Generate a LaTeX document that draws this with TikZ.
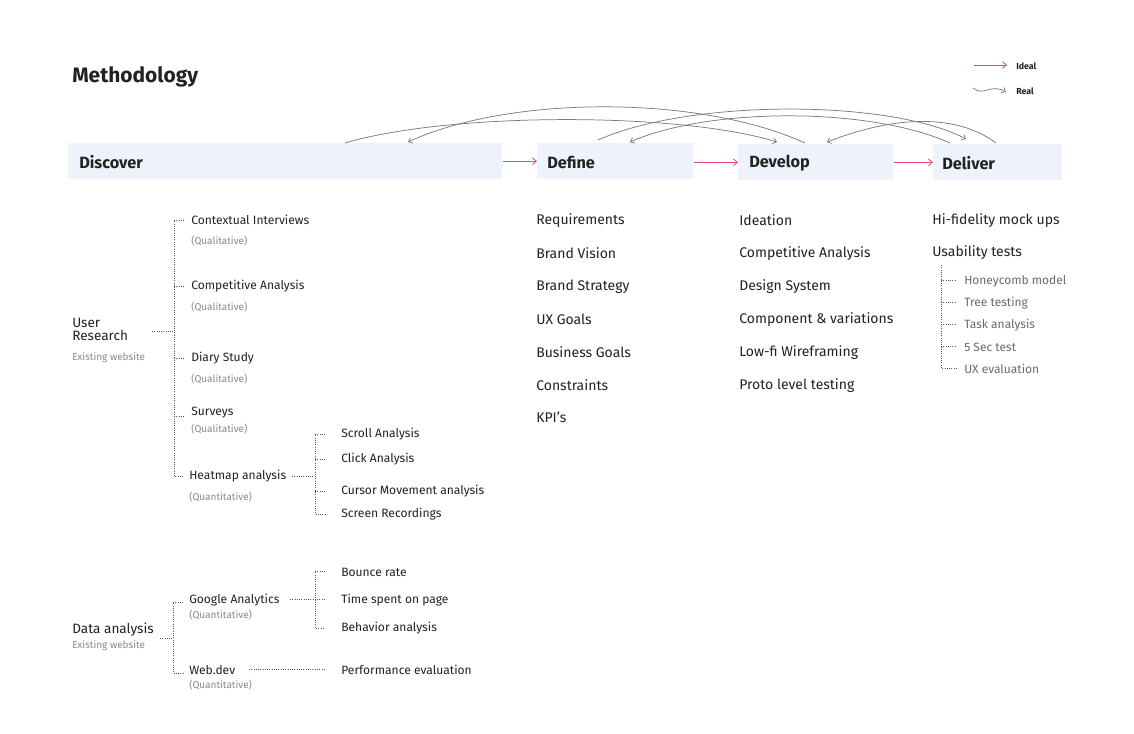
\documentclass[tikz,border=0pt]{standalone}
\usepackage{fontspec}
\setmainfont{Fira Sans}
\usetikzlibrary{arrows.meta}
\definecolor{barfill}{HTML}{EEF3FB}
\definecolor{ink}{HTML}{222222}
\definecolor{subc}{HTML}{8A8A8A}
\definecolor{grayitem}{HTML}{6A6A6A}
\definecolor{pinkc}{HTML}{E8457A}
\definecolor{curvec}{HTML}{7A7A7A}
\definecolor{dotc}{HTML}{555555}
\tikzset{
  txt/.style={anchor=west, inner sep=0, yshift=-1pt},
  phasebox/.style={fill=barfill, draw=none, anchor=north west, inner sep=0, minimum height=27pt},
  phaselabel/.style={txt, text=ink, font=\fontsize{12.2}{14}\selectfont\bfseries},
  colitem/.style={txt, text=ink, font=\fontsize{10.5}{12}\selectfont},
  treeitem/.style={txt, text=ink, font=\fontsize{9.05}{10.5}\selectfont},
  greyitem/.style={txt, text=grayitem, font=\fontsize{9}{10.5}\selectfont},
  subnote/.style={txt, text=subc, font=\fontsize{7.5}{9}\selectfont},
  rootitem/.style={txt, text=ink, font=\fontsize{10.2}{11}\selectfont, align=left},
  legendtxt/.style={txt, text=ink, font=\fontsize{6.6}{8}\selectfont\bfseries},
  ideal/.style={draw=pinkc, line width=0.6pt, -{Straight Barb[length=3pt,width=5pt]}},
  real/.style={draw=curvec, line width=0.55pt, -{Straight Barb[length=2.6pt,width=4.5pt]}},
  dotline/.style={draw=dotc, line width=0.6pt, dash pattern=on 0.6pt off 1.1pt},
}
\begin{document}
\begin{tikzpicture}[x=0.75pt,y=-0.75pt]
\useasboundingbox (0,0) rectangle (1134,734);
\fill[white] (0,0) rectangle (1134,734);

% title
\node[txt, text=ink, font=\fontsize{15.7}{18}\selectfont\bfseries] (title) at (72,76) {Methodology};

% legend
\coordinate (li1) at (974,65);
\coordinate (li2) at (1007,65);
\draw[ideal] (li1) -- (li2);
\node[legendtxt] (lideal) at (1016,65) {Ideal};
\coordinate (lr1) at (973,88);
\coordinate (lr2) at (1006,92);
\draw[real] (lr1) .. controls (984,97) and (990,83) .. (lr2);
\node[legendtxt] (lreal) at (1016,90) {Real};

% phase bars
\node[phasebox, minimum width=325.5pt] (disc) at (68,143) {};
\node[phasebox, minimum width=117pt] (def) at (537,143) {};
\node[phasebox, minimum width=116.25pt] (dev) at (738,144) {};
\node[phasebox, minimum width=96.75pt] (del) at (933,144) {};
\node[phaselabel] (discL) at (79,161) {Discover};
\node[phaselabel] (defL) at (547,161) {Define};
\node[phaselabel] (devL) at (749,162) {Develop};
\node[phaselabel] (delL) at (942,162) {Deliver};

\draw[ideal] (disc.east) -- (def.west |- disc.east);
\draw[ideal] (def.east |- dev.west) -- (dev.west);
\draw[ideal] (dev.east) -- (del.west);

% real curves
\coordinate (c1s) at (345,143); \coordinate (c1e) at (777,142);
\coordinate (c2s) at (805,143); \coordinate (c2e) at (408,142);
\coordinate (c3s) at (598,140); \coordinate (c3e) at (966,139);
\coordinate (c4s) at (950,143); \coordinate (c4e) at (630,142);
\coordinate (c5s) at (996,143); \coordinate (c5e) at (827,142);
\draw[real] (c1s) .. controls (450,112) and (680,112) .. (c1e);
\draw[real] (c2s) .. controls (700,95) and (510,95) .. (c2e);
\draw[real] (c3s) .. controls (690,99) and (890,99) .. (c3e);
\draw[real] (c4s) .. controls (870,107) and (710,107) .. (c4e);
\draw[real] (c5s) .. controls (968,122) and (915,108) .. (c5e);

% Define column
\node[colitem] (d1) at (536,219) {Requirements};
\node[colitem] (d2) at (536,252) {Brand Vision};
\node[colitem] (d3) at (536,285) {Brand Strategy};
\node[colitem] (d4) at (536,318) {UX Goals};
\node[colitem] (d5) at (536,351) {Business Goals};
\node[colitem] (d6) at (536,384) {Constraints};
\node[colitem] (d7) at (536,416) {KPI’s};

% Develop column
\node[colitem] (v1) at (739,219) {Ideation};
\node[colitem] (v2) at (739,252) {Competitive Analysis};
\node[colitem] (v3) at (739,285) {Design System};
\node[colitem] (v4) at (739,318) {Component \& variations};
\node[colitem] (v5) at (739,351) {Low-fi Wireframing};
\node[colitem] (v6) at (739,384) {Proto level testing};

% Deliver column
\node[colitem] (l1) at (932,219) {Hi-fidelity mock ups};
\node[colitem] (l2) at (932,251) {Usability tests};
\node[greyitem] (u1) at (964,280) {Honeycomb model};
\node[greyitem] (u2) at (964,302) {Tree testing};
\node[greyitem] (u3) at (964,324) {Task analysis};
\node[greyitem] (u4) at (964,346) {5 Sec test};
\node[greyitem] (u5) at (964,368) {UX evaluation};
\coordinate (ub) at (941,265);
\draw[dotline] (ub) -- (941,368) -- (956,368);
\foreach \y in {280,302,324,346} { \draw[dotline] (941,\y) -- (956,\y); }

% User research tree
\node[rootitem] (ur) at (72,328) {User\\[-1.5pt]Research};
\node[subnote] (urs) at (72,356) {Existing website};
\node[treeitem] (t1) at (191,219) {Contextual Interviews};
\node[subnote] (t1s) at (191,240) {(Qualitative)};
\node[treeitem] (t2) at (191,285) {Competitive Analysis};
\node[subnote] (t2s) at (191,306) {(Qualitative)};
\node[treeitem] (t3) at (191,357) {Diary Study};
\node[subnote] (t3s) at (191,378) {(Qualitative)};
\node[treeitem] (t4) at (191,411) {Surveys};
\node[subnote] (t4s) at (191,428) {(Qualitative)};
\node[treeitem] (t5) at (189,475) {Heatmap analysis};
\node[subnote] (t5s) at (189,496) {(Quantitative)};

\coordinate (urb) at (174,331);
\draw[dotline] (152,331) -- (urb);
\draw[dotline] (184,220) -- (174,220) -- (174,476) -- (184,476);
\draw[dotline] (174,286) -- (184,286);
\draw[dotline] (174,358) -- (184,358);
\draw[dotline] (174,416) -- (184,416);

% Heatmap sub-tree
\node[treeitem] (h1) at (341,433) {Scroll Analysis};
\node[treeitem] (h2) at (341,458) {Click Analysis};
\node[treeitem] (h3) at (341,490) {Cursor Movement analysis};
\node[treeitem] (h4) at (341,513) {Screen Recordings};
\coordinate (hs) at (292,476);
\draw[dotline] (hs) -- (315,476);
\draw[dotline] (325,434) -- (315,434) -- (315,514) -- (325,514);
\draw[dotline] (315,459) -- (325,459);
\draw[dotline] (315,491) -- (325,491);

% Data analysis tree
\node[rootitem] (da) at (72,628) {Data analysis};
\node[subnote] (das) at (72,644) {Existing website};
\node[treeitem] (g1) at (189,599) {Google Analytics};
\node[subnote] (g1s) at (189,614) {(Quantitative)};
\node[treeitem] (g2) at (189,669) {Web.dev};
\node[subnote] (g2s) at (189,684) {(Quantitative)};
\draw[dotline] (160,638) -- (173,638);
\draw[dotline] (183,602) -- (173,602) -- (173,673) -- (183,673);

\node[treeitem] (b1) at (341,571) {Bounce rate};
\node[treeitem] (b2) at (341,599) {Time spent on page};
\node[treeitem] (b3) at (341,627) {Behavior analysis};
\node[treeitem] (p1) at (341,669) {Performance evaluation};
\draw[dotline] (290,599) -- (325,599);
\draw[dotline] (325,571) -- (315,571) -- (315,628) -- (325,628);
\draw[dotline] (249,669) -- (325,669);
\end{tikzpicture}
\end{document}
